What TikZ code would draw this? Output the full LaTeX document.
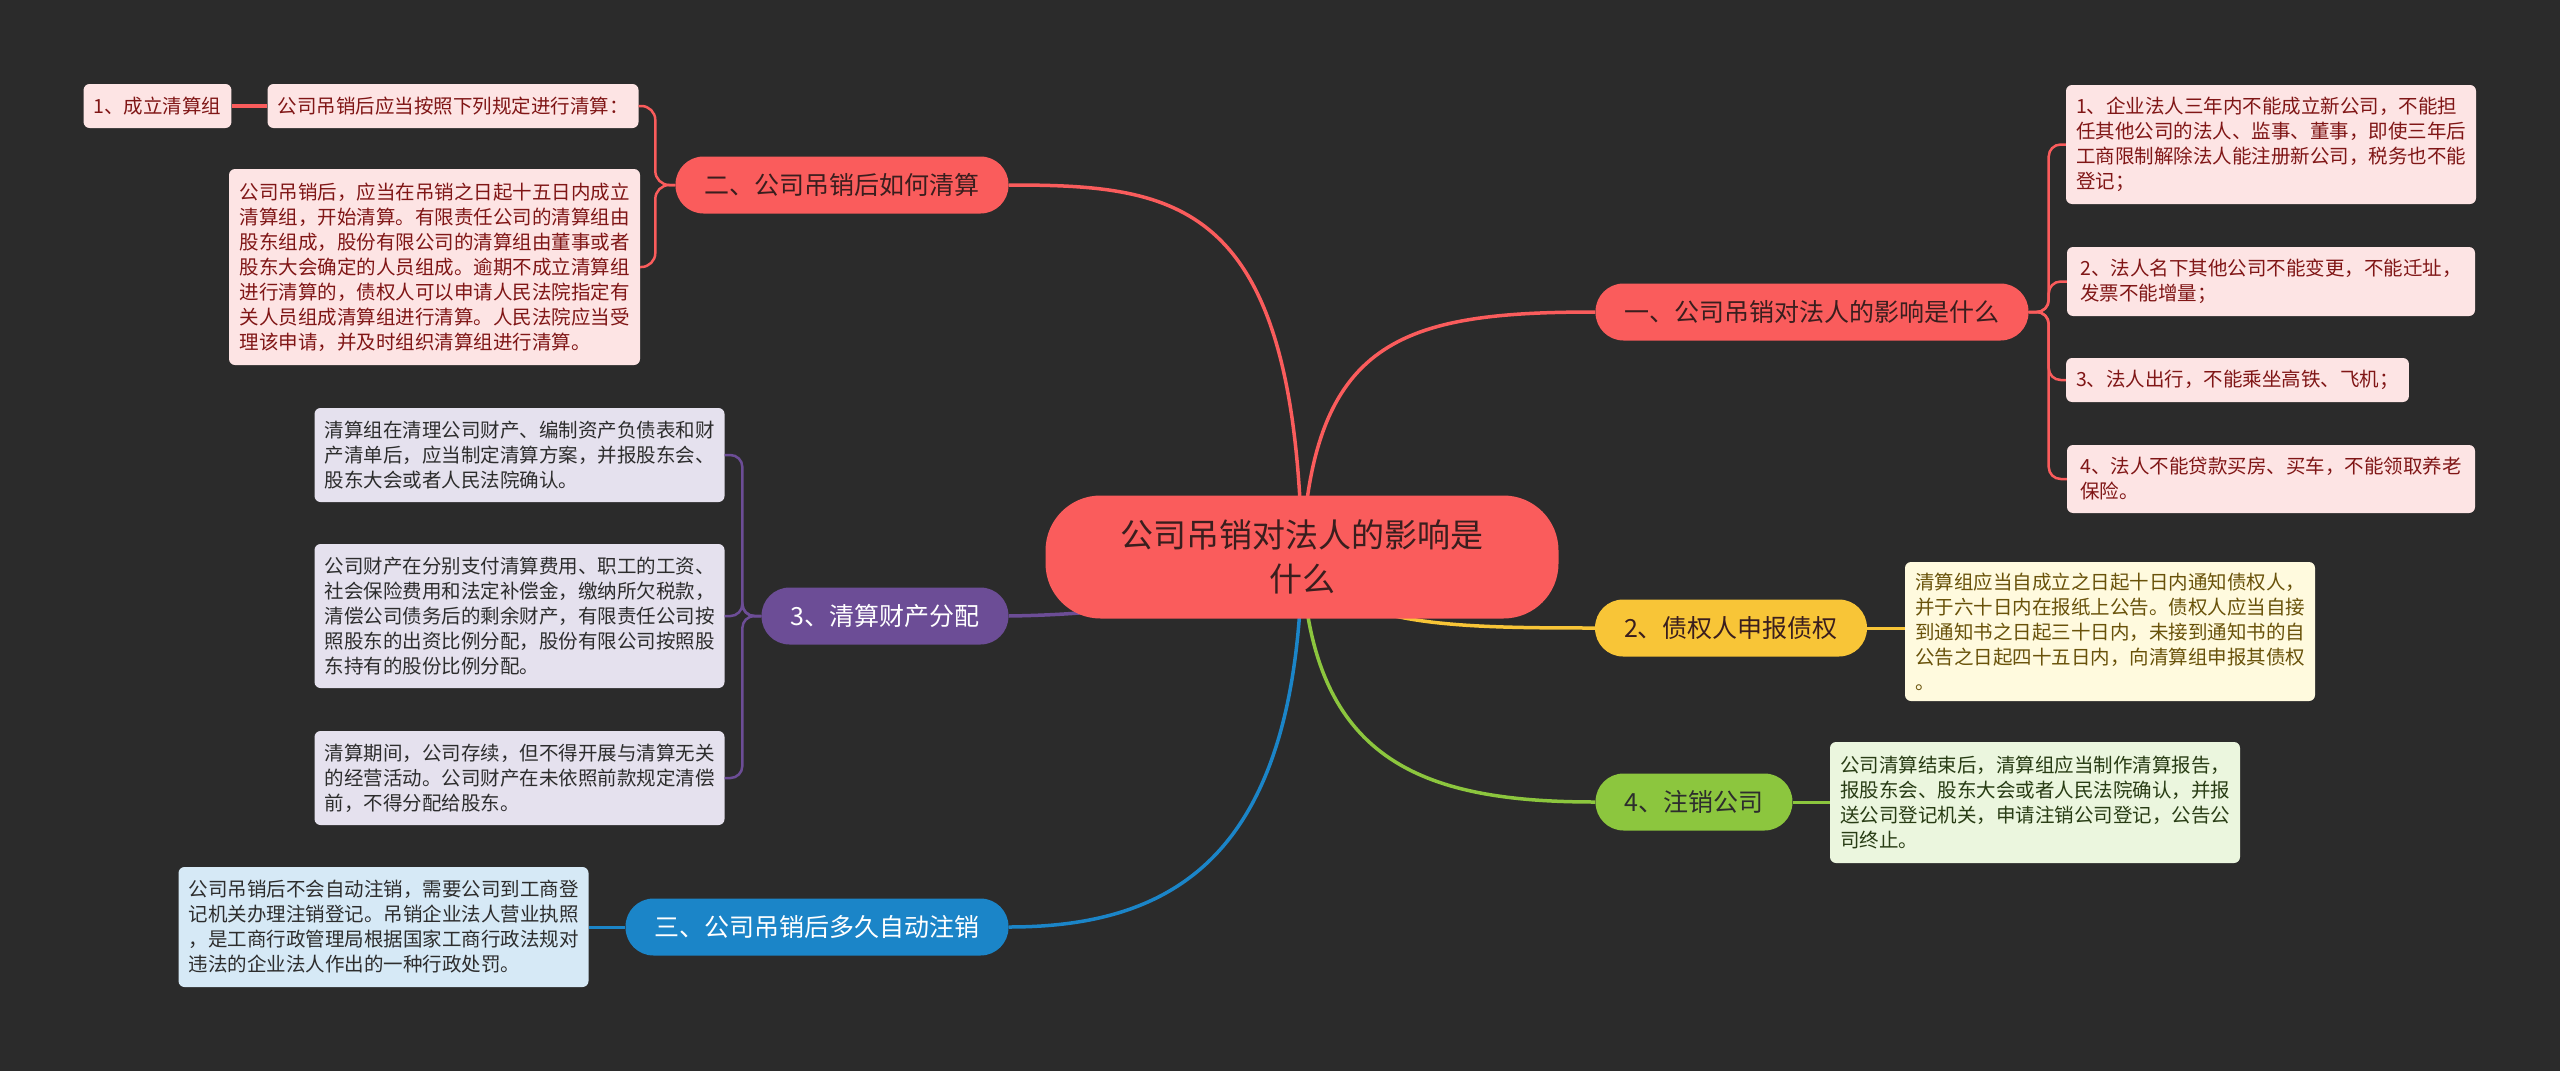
\documentclass[tikz,border=0pt]{standalone}
\usepackage{fontspec}
\setmainfont{Noto Sans CJK SC}
\usepackage{tikz}
\usetikzlibrary{backgrounds}

\definecolor{bgcol}{RGB}{43,43,43}
\definecolor{redc}{RGB}{250,92,92}
\definecolor{redtxt}{RGB}{58,30,30}
\definecolor{pinkc}{RGB}{253,228,228}
\definecolor{pinktxt}{RGB}{128,22,22}
\definecolor{purc}{RGB}{108,77,150}
\definecolor{lavc}{RGB}{229,225,238}
\definecolor{bluec}{RGB}{27,133,200}
\definecolor{skyc}{RGB}{214,233,246}
\definecolor{yelc}{RGB}{248,197,55}
\definecolor{creamc}{RGB}{255,250,222}
\definecolor{yeltxt}{RGB}{105,82,10}
\definecolor{grnc}{RGB}{140,198,62}
\definecolor{mintc}{RGB}{235,246,222}
\definecolor{grntxt}{RGB}{40,60,20}
\definecolor{darktxt}{RGB}{45,45,45}

\begin{document}
\begin{tikzpicture} [x=1pt, y=-1pt,
    pill/.style={rounded corners=28pt, inner xsep=29pt, minimum height=57pt, font=\fontsize{25}{30}\selectfont},
    leaf/.style={rounded corners=6pt, inner xsep=10pt, align=left, font=\fontsize{19.5}{25}\selectfont}]
                \useasboundingbox (0,0) rectangle (2560,1071);

		\node [fill=redc, text=redtxt, rounded corners=55pt, minimum width=513pt, minimum height=123pt,
                  align=center, font=\fontsize{33}{44}\selectfont] (root) at (1302,557) {公司吊销对法人的影响是\\什么};

		\node [pill, fill=redc, text=redtxt] (impact) at (1812,312) {一、公司吊销对法人的影响是什么};
		\node [pill, fill=redc, text=redtxt] (howliq) at (842,185) {二、公司吊销后如何清算};
		\node [pill, fill=purc, text=white] (assets) at (885,616) {3、清算财产分配};
		\node [pill, fill=bluec, text=white] (autocancel) at (817,927) {三、公司吊销后多久自动注销};
		\node [pill, fill=yelc, text=redtxt] (claims) at (1731,628) {2、债权人申报债权};
		\node [pill, fill=grnc, text=darktxt] (dereg) at (1694,802) {4、注销公司};

		\node [leaf, fill=pinkc, text=pinktxt, minimum height=44pt] (setup) at (157.5,106) {1、成立清算组};
		\node [leaf, fill=pinkc, text=pinktxt, minimum height=44pt] (rules) at (453,106) {公司吊销后应当按照下列规定进行清算：};
		\node [leaf, fill=pinkc, text=pinktxt, minimum width=411pt, minimum height=196pt] (team) at (434.5,267)
                {公司吊销后，应当在吊销之日起十五日内成立\\清算组，开始清算。有限责任公司的清算组由\\股东组成，股份有限公司的清算组由董事或者\\股东大会确定的人员组成。逾期不成立清算组\\进行清算的，债权人可以申请人民法院指定有\\关人员组成清算组进行清算。人民法院应当受\\理该申请，并及时组织清算组进行清算。};

		\node [leaf, fill=pinkc, text=pinktxt, minimum width=408pt, minimum height=119pt] (imp1) at (2271,144.5)
                {1、企业法人三年内不能成立新公司，不能担\\任其他公司的法人、监事、董事，即使三年后\\工商限制解除法人能注册新公司，税务也不能\\登记；};
		\node [leaf, fill=pinkc, text=pinktxt, minimum width=408pt, minimum height=69pt] (imp2) at (2271,281.5)
                {2、法人名下其他公司不能变更，不能迁址，\\发票不能增量；};
		\node [leaf, fill=pinkc, text=pinktxt, minimum height=44pt] (imp3) at (2237.5,380) {3、法人出行，不能乘坐高铁、飞机；};
		\node [leaf, fill=pinkc, text=pinktxt, minimum width=408pt, minimum height=68pt] (imp4) at (2271,479)
                {4、法人不能贷款买房、买车，不能领取养老\\保险。};

		\node [leaf, fill=creamc, text=yeltxt, minimum width=408pt, minimum height=139pt] (notice) at (2110,631.5)
                {清算组应当自成立之日起十日内通知债权人，\\并于六十日内在报纸上公告。债权人应当自接\\到通知书之日起三十日内，未接到通知书的自\\公告之日起四十五日内，向清算组申报其债权\\。};
		\node [leaf, fill=mintc, text=grntxt, minimum width=408pt, minimum height=121pt] (report) at (2035,802.5)
                {公司清算结束后，清算组应当制作清算报告，\\报股东会、股东大会或者人民法院确认，并报\\送公司登记机关，申请注销公司登记，公告公\\司终止。};

		\node [leaf, fill=lavc, text=darktxt, minimum width=409pt, minimum height=94pt] (plan) at (519.5,455)
                {清算组在清理公司财产、编制资产负债表和财\\产清单后，应当制定清算方案，并报股东会、\\股东大会或者人民法院确认。};
		\node [leaf, fill=lavc, text=darktxt, minimum width=409pt, minimum height=144pt] (order) at (519.5,616)
                {公司财产在分别支付清算费用、职工的工资、\\社会保险费用和法定补偿金，缴纳所欠税款，\\清偿公司债务后的剩余财产，有限责任公司按\\照股东的出资比例分配，股份有限公司按照股\\东持有的股份比例分配。};
		\node [leaf, fill=lavc, text=darktxt, minimum width=409pt, minimum height=94pt] (period) at (519.5,778)
                {清算期间，公司存续，但不得开展与清算无关\\的经营活动。公司财产在未依照前款规定清偿\\前，不得分配给股东。};

		\node [leaf, fill=skyc, text=darktxt, minimum width=409pt, minimum height=120pt] (penalty) at (383.5,927)
                {公司吊销后不会自动注销，需要公司到工商登\\记机关办理注销登记。吊销企业法人营业执照\\，是工商行政管理局根据国家工商行政法规对\\违法的企业法人作出的一种行政处罚。};

                \begin{scope}[on background layer]
		\fill [bgcol] (0,0) rectangle (2560,1071);

		\draw [redc, line width=3.5pt] (root.center) .. controls (1296,200) and (1180,185) .. (howliq.east);
		\draw [redc, line width=3.5pt] (root.center) .. controls (1312,340) and (1400,312) .. (impact.west);
		\draw [purc, line width=3.5pt] (assets.east) .. controls (1150,614) and (1250,590) .. (root.center);
		\draw [bluec, line width=3.5pt] (root.center) .. controls (1298,850) and (1180,927) .. (autocancel.east);
		\draw [grnc, line width=3.5pt] (root.center) .. controls (1310,760) and (1420,802) .. (dereg.west);
		\draw [yelc, line width=3.5pt] (root.center) .. controls (1340,625) and (1440,628) .. (claims.west);
                \end{scope}

		\draw [redc, line width=3.5pt] (setup.east) -- (rules.west);
		\draw [redc, line width=2.5pt, rounded corners=14pt] (howliq.west) -- ++(-20,0) |- (rules.east);
		\draw [redc, line width=2.5pt, rounded corners=14pt] (howliq.west) -- ++(-20,0) |- (team.east);

		\draw [redc, line width=2.5pt, rounded corners=12pt] (impact.east) -- ++(20,0) |- (imp1.west);
		\draw [redc, line width=2.5pt, rounded corners=12pt] (impact.east) -- ++(20,0) |- (imp2.west);
		\draw [redc, line width=2.5pt, rounded corners=12pt] (impact.east) -- ++(20,0) |- (imp3.west);
		\draw [redc, line width=2.5pt, rounded corners=12pt] (impact.east) -- ++(20,0) |- (imp4.west);

		\draw [purc, line width=2.5pt, rounded corners=12pt] (assets.west) -- ++(-19,0) |- (plan.east);
		\draw [purc, line width=2.5pt, rounded corners=12pt] (assets.west) -- ++(-19,0) |- (order.east);
		\draw [purc, line width=2.5pt, rounded corners=12pt] (assets.west) -- ++(-19,0) |- (period.east);

		\draw [bluec, line width=3pt] (autocancel.west) -- (penalty.east |- autocancel.west);
		\draw [yelc, line width=3pt] (claims.east) -- (notice.west |- claims.east);
		\draw [grnc, line width=3pt] (dereg.east) -- (report.west |- dereg.east);

		\end{tikzpicture}
\end{document}
